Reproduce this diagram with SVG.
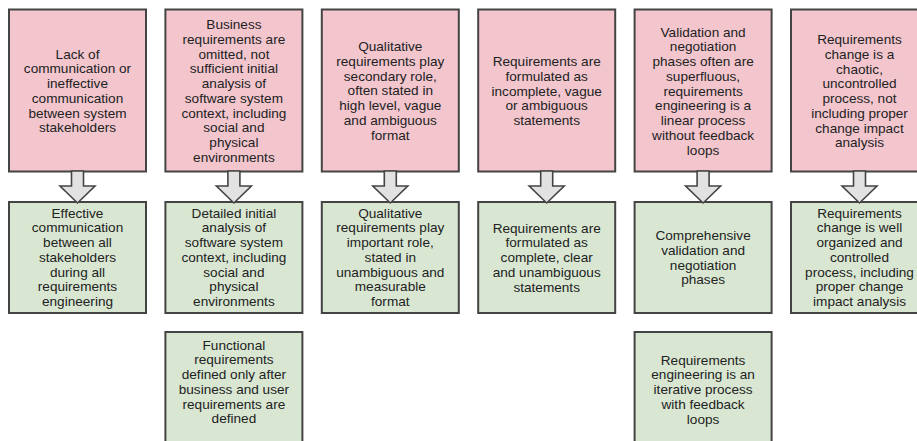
<svg xmlns="http://www.w3.org/2000/svg" xmlns:xlink="http://www.w3.org/1999/xlink" width="917" height="441" viewBox="0 0 917 441">
<style>
.p{fill:#f3c6ce;stroke:#444;stroke-width:2}
.g{fill:#d9e7d2;stroke:#444;stroke-width:2}
.t{font-family:"Liberation Sans",Arial,sans-serif;font-size:13.6px;fill:#222;text-anchor:middle}
.a{fill:#e2e2e2;stroke:#444;stroke-width:1.6;stroke-linejoin:miter}
</style>
<defs>
<path id="arr" class="a" d="M-6,171 L6,171 L6,186 L17.5,186 L0,203 L-17.5,186 L-6,186 Z"/>
</defs>
<rect width="917" height="441" fill="#fff"/>

<g id="p1"><rect class="p" x="9" y="9.5" width="137" height="162"/>
<text class="t" x="77.5" y="58.6"><tspan x="77.5">Lack of</tspan><tspan x="77.5" dy="14.75">communication or</tspan><tspan x="77.5" dy="14.75">ineffective</tspan><tspan x="77.5" dy="14.75">communication</tspan><tspan x="77.5" dy="14.75">between system</tspan><tspan x="77.5" dy="14.75">stakeholders</tspan></text></g>

<g id="p2"><rect class="p" x="165.4" y="9.5" width="137" height="162"/>
<text class="t" x="233.9" y="29.1"><tspan x="233.9">Business</tspan><tspan x="233.9" dy="14.75">requirements are</tspan><tspan x="233.9" dy="14.75">omitted, not</tspan><tspan x="233.9" dy="14.75">sufficient initial</tspan><tspan x="233.9" dy="14.75">analysis of</tspan><tspan x="233.9" dy="14.75">software system</tspan><tspan x="233.9" dy="14.75">context, including</tspan><tspan x="233.9" dy="14.75">social and</tspan><tspan x="233.9" dy="14.75">physical</tspan><tspan x="233.9" dy="14.75">environments</tspan></text></g>

<g id="p3"><rect class="p" x="321.8" y="9.5" width="137" height="162"/>
<text class="t" x="390.3" y="51.2"><tspan x="390.3">Qualitative</tspan><tspan x="390.3" dy="14.75">requirements play</tspan><tspan x="390.3" dy="14.75">secondary role,</tspan><tspan x="390.3" dy="14.75">often stated in</tspan><tspan x="390.3" dy="14.75">high level, vague</tspan><tspan x="390.3" dy="14.75">and ambiguous</tspan><tspan x="390.3" dy="14.75">format</tspan></text></g>

<g id="p4"><rect class="p" x="478.2" y="9.5" width="137" height="162"/>
<text class="t" x="546.7" y="66"><tspan x="546.7">Requirements are</tspan><tspan x="546.7" dy="14.75">formulated as</tspan><tspan x="546.7" dy="14.75">incomplete, vague</tspan><tspan x="546.7" dy="14.75">or ambiguous</tspan><tspan x="546.7" dy="14.75">statements</tspan></text></g>

<g id="p5"><rect class="p" x="634.6" y="9.5" width="137" height="162"/>
<text class="t" x="703.1" y="36.6"><tspan x="703.1">Validation and</tspan><tspan x="703.1" dy="14.75">negotiation</tspan><tspan x="703.1" dy="14.75">phases often are</tspan><tspan x="703.1" dy="14.75">superfluous,</tspan><tspan x="703.1" dy="14.75">requirements</tspan><tspan x="703.1" dy="14.75">engineering is a</tspan><tspan x="703.1" dy="14.75">linear process</tspan><tspan x="703.1" dy="14.75">without feedback</tspan><tspan x="703.1" dy="14.75">loops</tspan></text></g>

<g id="p6"><rect class="p" x="791" y="9.5" width="137" height="162"/>
<text class="t" x="859.5" y="44.2"><tspan x="859.5">Requirements</tspan><tspan x="859.5" dy="14.75">change is a</tspan><tspan x="859.5" dy="14.75">chaotic,</tspan><tspan x="859.5" dy="14.75">uncontrolled</tspan><tspan x="859.5" dy="14.75">process, not</tspan><tspan x="859.5" dy="14.75">including proper</tspan><tspan x="859.5" dy="14.75">change impact</tspan><tspan x="859.5" dy="14.75">analysis</tspan></text></g>

<g id="g1"><rect class="g" x="9" y="202" width="137" height="111"/>
<text class="t" x="77.5" y="217.5"><tspan x="77.5">Effective</tspan><tspan x="77.5" dy="14.75">communication</tspan><tspan x="77.5" dy="14.75">between all</tspan><tspan x="77.5" dy="14.75">stakeholders</tspan><tspan x="77.5" dy="14.75">during all</tspan><tspan x="77.5" dy="14.75">requirements</tspan><tspan x="77.5" dy="14.75">engineering</tspan></text></g>

<g id="g2"><rect class="g" x="165.4" y="202" width="137" height="111"/>
<text class="t" x="233.9" y="217.5"><tspan x="233.9">Detailed initial</tspan><tspan x="233.9" dy="14.75">analysis of</tspan><tspan x="233.9" dy="14.75">software system</tspan><tspan x="233.9" dy="14.75">context, including</tspan><tspan x="233.9" dy="14.75">social and</tspan><tspan x="233.9" dy="14.75">physical</tspan><tspan x="233.9" dy="14.75">environments</tspan></text></g>

<g id="g3"><rect class="g" x="321.8" y="202" width="137" height="111"/>
<text class="t" x="390.3" y="217.5"><tspan x="390.3">Qualitative</tspan><tspan x="390.3" dy="14.75">requirements play</tspan><tspan x="390.3" dy="14.75">important role,</tspan><tspan x="390.3" dy="14.75">stated in</tspan><tspan x="390.3" dy="14.75">unambiguous and</tspan><tspan x="390.3" dy="14.75">measurable</tspan><tspan x="390.3" dy="14.75">format</tspan></text></g>

<g id="g4"><rect class="g" x="478.2" y="202" width="137" height="111"/>
<text class="t" x="546.7" y="232.5"><tspan x="546.7">Requirements are</tspan><tspan x="546.7" dy="14.75">formulated as</tspan><tspan x="546.7" dy="14.75">complete, clear</tspan><tspan x="546.7" dy="14.75">and unambiguous</tspan><tspan x="546.7" dy="14.75">statements</tspan></text></g>

<g id="g5"><rect class="g" x="634.6" y="202" width="137" height="111"/>
<text class="t" x="703.1" y="240"><tspan x="703.1">Comprehensive</tspan><tspan x="703.1" dy="14.75">validation and</tspan><tspan x="703.1" dy="14.75">negotiation</tspan><tspan x="703.1" dy="14.75">phases</tspan></text></g>

<g id="g6"><rect class="g" x="791" y="202" width="137" height="111"/>
<text class="t" x="859.5" y="217.5"><tspan x="859.5">Requirements</tspan><tspan x="859.5" dy="14.75">change is well</tspan><tspan x="859.5" dy="14.75">organized and</tspan><tspan x="859.5" dy="14.75">controlled</tspan><tspan x="859.5" dy="14.75">process, including</tspan><tspan x="859.5" dy="14.75">proper change</tspan><tspan x="859.5" dy="14.75">impact analysis</tspan></text></g>

<g id="g7"><rect class="g" x="165.4" y="332" width="137" height="120"/>
<text class="t" x="233.9" y="349.5"><tspan x="233.9">Functional</tspan><tspan x="233.9" dy="14.75">requirements</tspan><tspan x="233.9" dy="14.75">defined only after</tspan><tspan x="233.9" dy="14.75">business and user</tspan><tspan x="233.9" dy="14.75">requirements are</tspan><tspan x="233.9" dy="14.75">defined</tspan></text></g>

<g id="g8"><rect class="g" x="634.6" y="332" width="137" height="120"/>
<text class="t" x="703.1" y="364.5"><tspan x="703.1">Requirements</tspan><tspan x="703.1" dy="14.75">engineering is an</tspan><tspan x="703.1" dy="14.75">iterative process</tspan><tspan x="703.1" dy="14.75">with feedback</tspan><tspan x="703.1" dy="14.75">loops</tspan></text></g>

<g id="connectors">
<use xlink:href="#arr" href="#arr" transform="translate(77.5,0)"/>
<use xlink:href="#arr" href="#arr" transform="translate(233.9,0)"/>
<use xlink:href="#arr" href="#arr" transform="translate(390.3,0)"/>
<use xlink:href="#arr" href="#arr" transform="translate(546.7,0)"/>
<use xlink:href="#arr" href="#arr" transform="translate(703.1,0)"/>
<use xlink:href="#arr" href="#arr" transform="translate(859.5,0)"/>
</g>
</svg>
